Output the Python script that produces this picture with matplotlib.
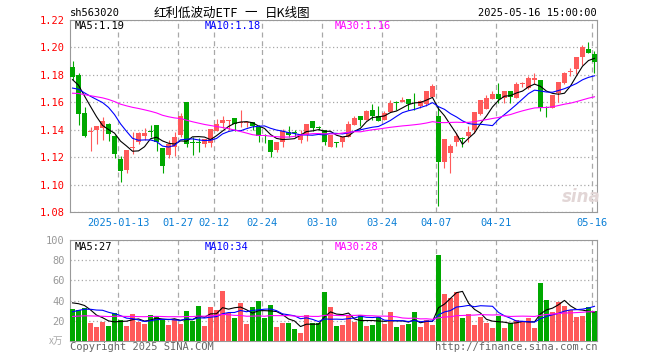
import matplotlib
matplotlib.use('Agg')
import matplotlib.pyplot as plt
import numpy as np
import pandas as pd

plt.rcParams['font.family'] = ['DejaVu Sans Mono', 'Noto Sans CJK SC']

# 日K数据 (2024-12-31 ~ 2025-05-16)
opens = [1.1855, 1.1799, 1.1525, 1.1382, 1.1395, 1.1412, 1.1444, 1.1356, 1.1187, 1.1108,
         1.1270, 1.1307, 1.1351, 1.1388, 1.1437, 1.1270, 1.1216, 1.1277, 1.1363, 1.1600,
         1.1305, 1.1305, 1.1299, 1.1300, 1.1393, 1.1449, 1.1465, 1.1486, 1.1449, 1.1450,
         1.1456, 1.1419, 1.1358, 1.1326, 1.1253, 1.1314, 1.1380, 1.1378, 1.1326, 1.1363,
         1.1466, 1.1414, 1.1395, 1.1277, 1.1302, 1.1314, 1.1350, 1.1437, 1.1498, 1.1473,
         1.1547, 1.1498, 1.1473, 1.1527, 1.1598, 1.1600, 1.1625, 1.1586, 1.1572, 1.1590,
         1.1640, 1.1503, 1.1168, 1.1233, 1.1314, 1.1338, 1.1355, 1.1395, 1.1517, 1.1554,
         1.1625, 1.1664, 1.1632, 1.1681, 1.1632, 1.1730, 1.1706, 1.1762, 1.1760, 1.1560,
         1.1559, 1.1669, 1.1743, 1.1820, 1.1841, 1.1927, 1.1988, 1.1951]
highs = [1.1902, 1.1816, 1.1566, 1.1423, 1.1430, 1.1493, 1.1448, 1.1358, 1.1211, 1.1253,
         1.1385, 1.1385, 1.1415, 1.1437, 1.1437, 1.1270, 1.1326, 1.1385, 1.1525, 1.1600,
         1.1350, 1.1339, 1.1331, 1.1407, 1.1480, 1.1498, 1.1473, 1.1486, 1.1547, 1.1460,
         1.1456, 1.1437, 1.1368, 1.1326, 1.1314, 1.1405, 1.1430, 1.1395, 1.1400, 1.1444,
         1.1466, 1.1430, 1.1395, 1.1363, 1.1314, 1.1350, 1.1461, 1.1498, 1.1498, 1.1547,
         1.1584, 1.1576, 1.1535, 1.1620, 1.1608, 1.1638, 1.1625, 1.1670, 1.1620, 1.1681,
         1.1730, 1.1570, 1.1331, 1.1297, 1.1375, 1.1350, 1.1428, 1.1527, 1.1620, 1.1650,
         1.1681, 1.1738, 1.1681, 1.1681, 1.1748, 1.1748, 1.1792, 1.1811, 1.1760, 1.1571,
         1.1650, 1.1748, 1.1821, 1.1853, 1.1927, 1.2017, 1.2037, 1.1976]
lows = [1.1762, 1.1437, 1.1348, 1.1245, 1.1294, 1.1326, 1.1321, 1.1192, 1.1020, 1.1086,
        1.1225, 1.1295, 1.1326, 1.1350, 1.1248, 1.1086, 1.1196, 1.1211, 1.1350, 1.1272,
        1.1218, 1.1240, 1.1277, 1.1277, 1.1390, 1.1412, 1.1400, 1.1388, 1.1419, 1.1420,
        1.1400, 1.1307, 1.1302, 1.1199, 1.1240, 1.1272, 1.1350, 1.1350, 1.1302, 1.1321,
        1.1388, 1.1395, 1.1290, 1.1277, 1.1272, 1.1277, 1.1350, 1.1437, 1.1424, 1.1473,
        1.1473, 1.1461, 1.1473, 1.1527, 1.1547, 1.1600, 1.1547, 1.1547, 1.1560, 1.1571,
        1.1638, 1.0845, 1.1118, 1.1081, 1.1278, 1.1272, 1.1313, 1.1375, 1.1508, 1.1550,
        1.1625, 1.1596, 1.1596, 1.1596, 1.1632, 1.1710, 1.1694, 1.1730, 1.1535, 1.1493,
        1.1559, 1.1600, 1.1730, 1.1792, 1.1804, 1.1870, 1.1958, 1.1811]
closes = [1.1785, 1.1517, 1.1356, 1.1388, 1.1430, 1.1466, 1.1366, 1.1226, 1.1096, 1.1253,
          1.1275, 1.1378, 1.1378, 1.1385, 1.1312, 1.1138, 1.1294, 1.1348, 1.1500, 1.1299,
          1.1300, 1.1302, 1.1331, 1.1407, 1.1442, 1.1468, 1.1470, 1.1444, 1.1456, 1.1456,
          1.1429, 1.1351, 1.1355, 1.1234, 1.1314, 1.1388, 1.1363, 1.1375, 1.1363, 1.1444,
          1.1412, 1.1410, 1.1314, 1.1363, 1.1300, 1.1350, 1.1444, 1.1486, 1.1473, 1.1540,
          1.1503, 1.1466, 1.1522, 1.1596, 1.1594, 1.1620, 1.1584, 1.1584, 1.1612, 1.1680,
          1.1718, 1.1168, 1.1331, 1.1278, 1.1356, 1.1335, 1.1386, 1.1527, 1.1620, 1.1633,
          1.1664, 1.1625, 1.1681, 1.1640, 1.1730, 1.1732, 1.1780, 1.1780, 1.1559, 1.1557,
          1.1650, 1.1748, 1.1816, 1.1822, 1.1927, 1.2000, 1.1958, 1.1895]
# 成交量 (万手)
volumes = [31.7, 31, 33, 18.3, 14.3, 19, 15, 28, 21, 15,
           26.3, 19, 17.3, 25.7, 25, 21.7, 16, 21.7, 17.3, 30,
           20, 35, 15.3, 34, 30.7, 50, 27.7, 22.3, 37.3, 17.3,
           33.3, 40, 22.3, 36, 14.3, 18.3, 18.3, 12.3, 8.3, 26,
           18.3, 18.3, 48.3, 33.3, 15, 16, 25.7, 19, 25.7, 15,
           16, 23.3, 17.3, 29, 14, 16, 17.3, 29, 14, 20.7,
           16, 85, 47, 42.3, 49, 22.3, 27, 16, 24, 18,
           13.3, 24.3, 13.3, 18.3, 21, 19.7, 22.3, 13.3, 57.7, 41,
           28.3, 39, 35, 30.7, 23.3, 25, 33.3, 30]
# 图左侧之前的数据, 只用于均线
pre_closes = [1.158, 1.160, 1.163, 1.166, 1.170, 1.172, 1.169, 1.166, 1.162, 1.160,
              1.163, 1.167, 1.170, 1.168, 1.165, 1.162, 1.160, 1.163, 1.166, 1.165,
              1.160, 1.162, 1.164, 1.166, 1.169, 1.172, 1.175, 1.177, 1.180]
pre_volumes = [20, 24, 22, 19, 25, 23, 21, 18, 22, 26, 24, 20, 19, 23, 25, 22, 21, 20, 23, 22,
               18, 21, 19, 22, 21, 35, 42, 40, 40]

tick_idx = [8, 18, 24, 32, 42, 52, 61, 71, 87]
tick_labels = ['2025-01-13', '01-27', '02-12', '02-24', '03-10', '03-24', '04-07', '04-21', '05-16']
price_ma_text = ['MA5:1.19', 'MA10:1.18', 'MA30:1.16']
vol_ma_text = ['MA5:27', 'MA10:34', 'MA30:28']

RED = '#ff5a5a'
GREEN = '#00a800'
GRAY = '#a8a8a8'
ma_colors = ['black', '#0000ff', '#ff00ff']

n = len(closes)
x = np.arange(n)
o = np.array(opens); c = np.array(closes)
up = c >= o
cols = [RED if u else GREEN for u in up]

cs = pd.Series(pre_closes + closes)
vs = pd.Series(pre_volumes + volumes)
npre = len(pre_closes)

W, H = 660, 360
fig = plt.figure(figsize=(6.6, 3.6), dpi=100)

def box(l, t, r, b):
    return [l / W, 1 - b / H, (r - l) / W, (b - t) / H]

ax = fig.add_axes(box(70, 20, 597, 212))
axv = fig.add_axes(box(70, 240, 597, 341))

# K线
body_lo = np.minimum(o, c)
body_h = np.maximum(np.abs(c - o), 0.0007)
ax.vlines(x, lows, highs, colors=cols, linewidth=0.8, zorder=3)
ax.bar(x, body_h, bottom=body_lo, width=0.8, color=cols, linewidth=0, zorder=4)
for k, w in enumerate([5, 10, 30]):
    ma = cs.rolling(w, min_periods=1).mean().values[npre:]
    ax.plot(x, ma, color=ma_colors[k], linewidth=0.8, zorder=5)

ax.set_xlim(-0.42, n - 1 + 0.42)
ax.set_ylim(1.08, 1.22)
ax.set_yticks(np.arange(1.08, 1.2201, 0.02))
ax.set_yticklabels(['%.2f' % v for v in np.arange(1.08, 1.2201, 0.02)])
ax.set_xticks(np.array(tick_idx) - 0.35)
ax.set_xticklabels(tick_labels)
ax.tick_params(axis='y', length=0, pad=4, labelsize=7.5, labelcolor='red')
ax.tick_params(axis='x', length=0, pad=4, labelsize=7.5, labelcolor='#0a7fd6')
ax.grid(axis='x', color=GRAY, linestyle=(0, (4, 3)), linewidth=0.9)
ax.grid(axis='y', color=GRAY, linestyle=(0, (1, 2)), linewidth=0.9)
ax.set_axisbelow(True)
for s in ax.spines.values():
    s.set_color('#999999')

# 成交量
axv.bar(x, volumes, width=0.8, color=cols, linewidth=0, zorder=3)
for k, w in enumerate([5, 10, 30]):
    ma = vs.rolling(w, min_periods=1).mean().values[npre:]
    axv.plot(x, ma, color=ma_colors[k], linewidth=0.8, zorder=5)
axv.set_xlim(-0.42, n - 1 + 0.42)
axv.set_ylim(0, 100)
axv.set_yticks([20, 40, 60, 80, 100])
axv.set_xticks(np.array(tick_idx) - 0.35)
axv.set_xticklabels([])
axv.tick_params(axis='y', length=0, pad=4, labelsize=7.5, labelcolor='#999999')
axv.tick_params(axis='x', length=0)
axv.grid(axis='x', color=GRAY, linestyle=(0, (4, 3)), linewidth=0.9)
axv.grid(axis='y', color=GRAY, linestyle=(0, (1, 2)), linewidth=0.9)
axv.set_axisbelow(True)
for s in axv.spines.values():
    s.set_color('#999999')

def ftext(px, py, s, **kw):
    fig.text(px / W, 1 - py / H, s, **kw)

cjk = ['Noto Sans CJK SC', 'DejaVu Sans']
ftext(70, 13, 'sh563020', fontsize=7.5, va='center', ha='left')
ftext(238, 13, '红利低波动ETF', fontsize=9, va='center', ha='right', family=cjk)
ftext(251, 13, '一', fontsize=9, va='center', ha='center', family=cjk)
ftext(265, 13, '日K线图', fontsize=9, va='center', ha='left', family=cjk)
ftext(597, 13, '2025-05-16 15:00:00', fontsize=7.5, va='center', ha='right')
for k, xp in enumerate([75, 205, 335]):
    ftext(xp, 26, price_ma_text[k], fontsize=7.5, va='center', color=ma_colors[k])
    ftext(xp, 246.5, vol_ma_text[k], fontsize=7.5, va='center', color=ma_colors[k])
ftext(63, 341, 'x万', fontsize=7, va='center', ha='right', color='#aaaaaa', family=cjk)
ftext(70, 347, 'Copyright 2025 SINA.COM', fontsize=7.5, va='center', ha='left', color='#666666')
ftext(597, 347, 'http://finance.sina.com.cn', fontsize=7.5, va='center', ha='right', color='#666666')
ftext(581, 197, 'sina', fontsize=12, va='center', ha='center', color='#e2d6d6',
      style='italic', weight='bold', family='DejaVu Sans')

fig.savefig('out.png', dpi=100)
